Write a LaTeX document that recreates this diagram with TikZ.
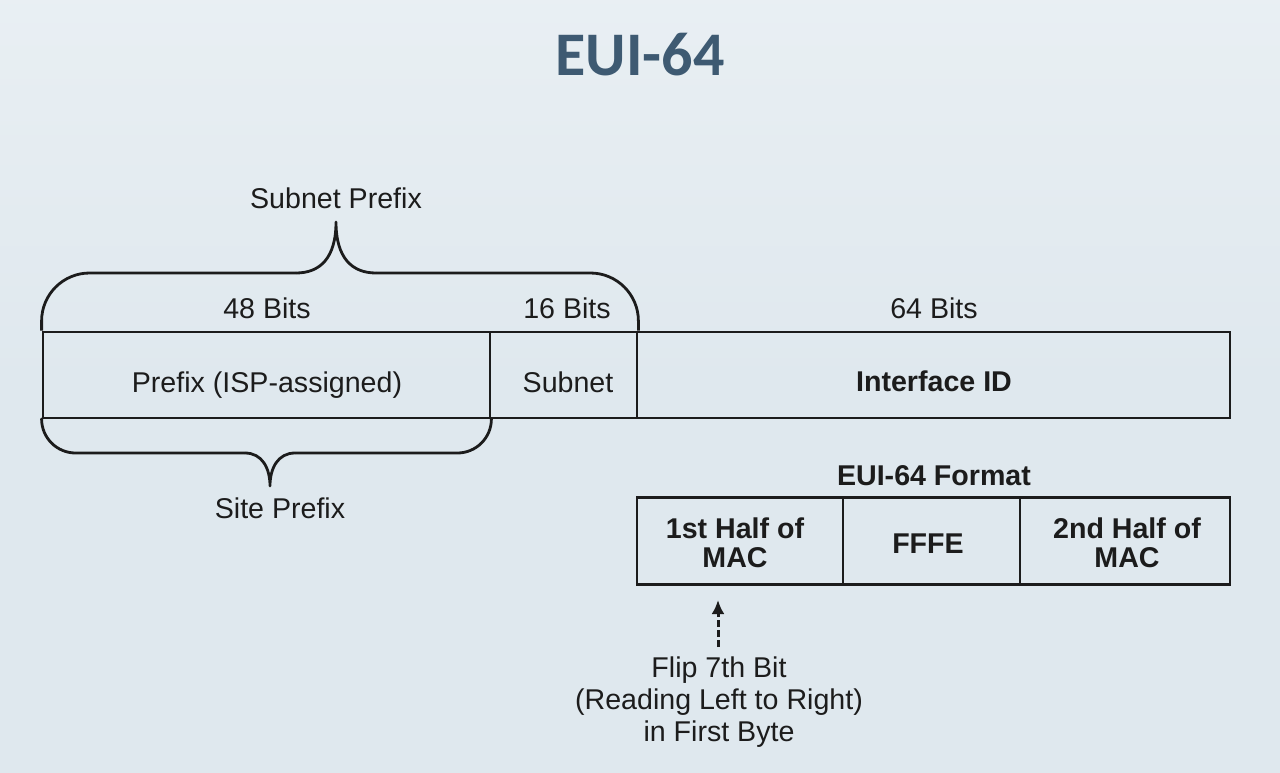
\documentclass[tikz,border=0pt]{standalone}
\usepackage{fontspec}
\setmainfont{Liberation Sans}
\newfontfamily\titlefont{Carlito}
\usetikzlibrary{arrows.meta}
\definecolor{bg}{HTML}{DFE8EE}
\definecolor{ink}{HTML}{1C1C1C}
\definecolor{titlecol}{HTML}{3E5A72}
\tikzset{
  cell/.style={draw=ink, line width=2.8pt, inner sep=0pt, minimum height=86pt},
  lbl/.style={anchor=base, text=ink, inner sep=0pt, font=\fontsize{28.6}{32}\selectfont},
  blbl/.style={anchor=base, text=ink, inner sep=0pt, font=\fontsize{28.6}{32}\selectfont\bfseries},
  bracepath/.style={draw=ink, line width=2.8pt, line join=round},
  flipArrow/.style={draw=ink, line width=3pt, dash pattern=on 7pt off 3pt, -{Latex[length=14pt,width=13pt]}},
}
\begin{document}
\begin{tikzpicture}[x=1pt, y=-1pt]
\useasboundingbox (0,0) rectangle (1280,772);
\shade[top color=bg!70!white, bottom color=bg, middle color=bg] (0,0) rectangle (1280,772);

% title
\node[anchor=base, inner sep=0pt, text=titlecol, font=\titlefont\bfseries\fontsize{62}{70}\selectfont] (title) at (640,75) {EUI-64};

% top row cells
\node[cell, minimum width=447pt] (prefix) at (266.5,375) {};
\node[cell, minimum width=147pt] (subnet) at (563.5,375) {};
\node[cell, minimum width=593pt] (iid) at (933.5,375) {};

% top row texts
\node[lbl] (t48) at (267,318) {48 Bits};
\node[lbl] (t16) at (567,318) {16 Bits};
\node[lbl] (t64) at (934,318) {64 Bits};
\node[lbl] (tprefix) at (267,392) {Prefix (ISP-assigned)};
\node[lbl] (tsubnet) at (568,392) {Subnet};
\node[blbl] (tiid) at (934,391) {Interface ID};

% subnet prefix brace
\node[lbl] (subnetprefix) at (336,208) {Subnet Prefix};
\coordinate (sptip) at (336,222);
\draw[bracepath, rounded corners=48pt] (prefix.north west) |- (296,273);
\draw[bracepath] (296,273) .. controls (320,273) and (336,258) .. (sptip)
                 .. controls (336,258) and (352,273) .. (376,273);
\draw[bracepath, rounded corners=48pt] (376,273) -| (subnet.north east);

% site prefix brace
\node[lbl] (siteprefix) at (280,518) {Site Prefix};
\coordinate (sitetip) at (270,486);
\draw[bracepath, rounded corners=34pt] (prefix.south west) |- (245,453);
\draw[bracepath] (245,453) .. controls (262,453) and (270,468) .. (sitetip)
                 .. controls (270,468) and (278,453) .. (295,453);
\draw[bracepath, rounded corners=34pt] (295,453) -| (prefix.south east);

% EUI-64 format
\node[blbl] (euifmt) at (934,485) {EUI-64 Format};
\node[cell, minimum width=206pt, minimum height=87pt] (mac1) at (740,541) {};
\node[cell, minimum width=177pt, minimum height=87pt] (fffe) at (931.5,541) {};
\node[cell, minimum width=210pt, minimum height=87pt] (mac2) at (1125,541) {};
\node[blbl] (mac1a) at (735,538) {1st Half of};
\node[blbl] (mac1b) at (735,567) {MAC};
\node[blbl] (tfffe) at (928,553) {FFFE};
\node[blbl] (mac2a) at (1127,538) {2nd Half of};
\node[blbl] (mac2b) at (1127,567) {MAC};

% flip note
\node[lbl] (flip1) at (719,677) {Flip 7th Bit};
\node[lbl] (flip2) at (719,709) {(Reading Left to Right)};
\node[lbl] (flip3) at (719,741) {in First Byte};
\coordinate (arrstart) at (718,647);
\coordinate (arrend) at (718,600);
\draw[flipArrow] (arrstart) -- (arrend);
\end{tikzpicture}
\end{document}
